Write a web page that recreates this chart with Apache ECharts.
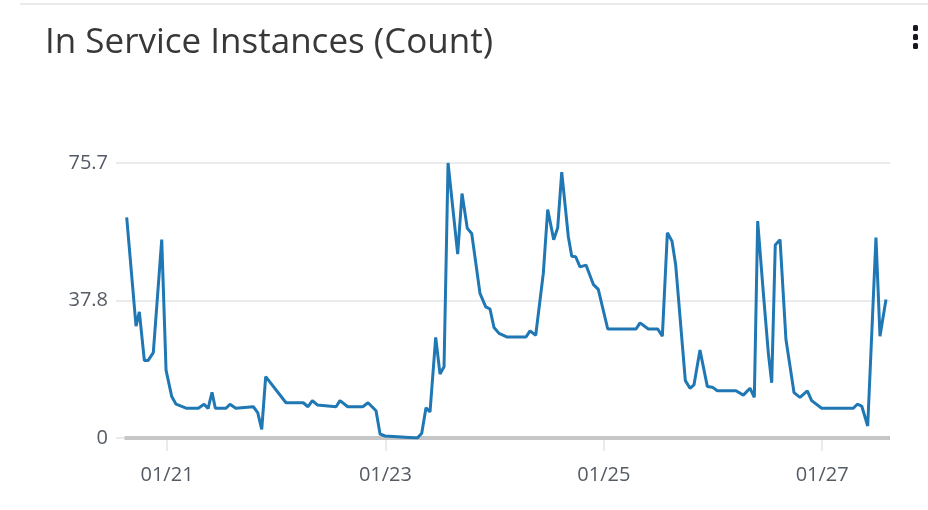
<!DOCTYPE html>
<html>
<head>
<meta charset="utf-8">
<script src="https://cdn.jsdelivr.net/npm/echarts@6/dist/echarts.min.js"></script>
<style>
  html, body { margin: 0; padding: 0; background: #ffffff; }
  #chart { width: 928px; height: 510px; }
</style>
</head>
<body>
<div id="chart"></div>
<script>
// ---- data (times are "MM/DD HH:MM", January) ----
var chartTitle = 'In Service Instances (Count)';
var times = [
  '01/20 15:08','01/20 17:11','01/20 17:55','01/20 19:01','01/20 19:49','01/20 20:59','01/20 22:50','01/20 23:47',
  '01/21 01:02','01/21 01:59','01/21 04:11','01/21 06:53','01/21 08:08','01/21 09:01','01/21 09:53','01/21 10:37',
  '01/21 12:58','01/21 13:51','01/21 15:06','01/21 18:58','01/21 19:56','01/21 20:49','01/21 21:41',
  '01/22 02:09','01/22 05:57','01/22 06:59','01/22 07:56','01/22 09:02','01/22 13:09','01/22 14:01','01/22 15:43',
  '01/22 19:01','01/22 20:11','01/22 21:56','01/22 22:49','01/22 23:55',
  '01/23 07:01','01/23 07:59','01/23 08:55','01/23 09:48','01/23 11:03','01/23 12:00','01/23 12:53','01/23 13:46',
  '01/23 15:53','01/23 16:50','01/23 18:00','01/23 18:58','01/23 20:47','01/23 22:03','01/23 22:59','01/23 23:52',
  '01/24 00:58','01/24 02:47','01/24 06:54','01/24 07:47','01/24 09:02','01/24 10:42','01/24 11:40','01/24 12:59',
  '01/24 13:52','01/24 14:45','01/24 16:12','01/24 16:57','01/24 17:49','01/24 18:46','01/24 20:05','01/24 21:41',
  '01/24 22:47',
  '01/25 00:52','01/25 07:05','01/25 07:58','01/25 09:47','01/25 11:51','01/25 12:52','01/25 13:58','01/25 14:59',
  '01/25 15:48','01/25 17:55','01/25 18:57','01/25 19:49','01/25 21:08','01/25 22:45','01/25 23:51',
  '01/26 00:56','01/26 05:03','01/26 06:40','01/26 08:08','01/26 09:05','01/26 09:49','01/26 11:04','01/26 12:10',
  '01/26 12:54','01/26 13:41','01/26 14:44','01/26 16:02','01/26 17:48','01/26 19:07','01/26 20:44','01/26 21:41',
  '01/26 23:53',
  '01/27 06:50','01/27 07:43','01/27 08:41','01/27 10:00','01/27 11:49','01/27 12:42','01/27 14:01'
];
var counts = [
  60.7, 30.8, 34.7, 21.3, 21.3, 23.5, 54.6, 18.7,
  11.4, 9.3, 8.2, 8.2, 9.3, 8.1, 12.6, 8.2,
  8.2, 9.3, 8.2, 8.6, 7.0, 2.4, 16.9,
  9.7, 9.7, 8.6, 10.3, 9.1, 8.6, 10.3, 8.6,
  8.6, 9.7, 7.5, 1.1, 0.55,
  0, 1.3, 8.3, 7.2, 27.7, 17.6, 19.6, 75.7,
  50.6, 67.3, 57.7, 56.3, 39.8, 36.1, 35.5, 30.4,
  28.8, 27.8, 27.8, 29.5, 28.3, 45.3, 62.9, 54.6,
  57.9, 73.2, 55.4, 50.0, 49.9, 47.1, 47.6, 42.3,
  40.9,
  30.0, 30.0, 31.7, 30.0, 30.0, 28.0, 56.5, 54.2,
  47.6, 15.8, 13.7, 14.6, 24.2, 14.2, 14.0,
  13.0, 13.0, 11.8, 13.7, 11.2, 59.7, 39.8, 23.3,
  15.2, 53.1, 54.6, 27.1, 12.5, 11.2, 13.0, 10.3,
  8.2,
  8.2, 9.3, 8.8, 3.3, 55.2, 28.0, 38.1
];
var xRange = ['01/20 12:47', '01/27 14:54'];
var xTickValues = ['01/21 00:00', '01/23 00:00', '01/25 00:00', '01/27 00:00'];
var xTickLabels = ['01/21', '01/23', '01/25', '01/27'];
var yTicks = [0, 37.85, 75.7];
var yTickLabels = ['0', '37.8', '75.7'];

// ---- helpers ----
function toDay(s) {
  var p = s.split(' ');
  var d = p[0].split('/');
  var t = p[1].split(':');
  return parseInt(d[1], 10) + (parseInt(t[0], 10) + parseInt(t[1], 10) / 60) / 24;
}
var seriesData = times.map(function (t, i) { return [toDay(t), counts[i]]; });
var xMin = toDay(xRange[0]);
var xMax = toDay(xRange[1]);
var xTicks = xTickValues.map(toDay);

var chart = echarts.init(document.getElementById('chart'), null, { renderer: 'canvas' });
var FONT = '"Open Sans", "Noto Sans", sans-serif';

chart.setOption({
  backgroundColor: '#ffffff',
  animation: false,
  title: {
    text: chartTitle,
    left: 40,
    top: 21,
    textStyle: { fontFamily: FONT, fontSize: 35, fontWeight: 'normal', color: '#383838' }
  },
  graphic: [
    { type: 'rect', shape: { x: 20, y: 3, width: 908, height: 2 }, style: { fill: '#e9ebed' }, silent: true },
    { type: 'rect', shape: { x: 913, y: 25, width: 5, height: 6, r: 1.5 }, style: { fill: '#16191f' }, silent: true },
    { type: 'rect', shape: { x: 913, y: 34, width: 5, height: 6, r: 1.5 }, style: { fill: '#16191f' }, silent: true },
    { type: 'rect', shape: { x: 913, y: 43, width: 5, height: 6, r: 1.5 }, style: { fill: '#16191f' }, silent: true }
  ],
  grid: { left: 116, right: 38, top: 163, bottom: 72, containLabel: false },
  xAxis: {
    type: 'value',
    min: xMin,
    max: xMax,
    axisLine: { show: false },
    splitLine: { show: false },
    axisTick: {
      show: true,
      customValues: xTicks,
      length: 13,
      lineStyle: { color: '#e9ebed', width: 2 }
    },
    axisLabel: {
      customValues: xTicks,
      margin: 27,
      fontFamily: FONT,
      fontSize: 20,
      color: '#545b64',
      formatter: function (v) {
        for (var i = 0; i < xTicks.length; i++) {
          if (Math.abs(xTicks[i] - v) < 1e-6) return xTickLabels[i];
        }
        return '';
      }
    }
  },
  yAxis: {
    type: 'value',
    min: 0,
    max: yTicks[yTicks.length - 1],
    interval: yTicks[1],
    axisLine: { show: false },
    axisTick: { show: false },
    splitLine: { show: true, lineStyle: { color: '#e9ebed', width: 2 } },
    axisLabel: {
      margin: 8,
      fontFamily: FONT,
      fontSize: 20,
      color: '#545b64',
      formatter: function (v) {
        for (var i = 0; i < yTicks.length; i++) {
          if (Math.abs(yTicks[i] - v) < 1e-6) return yTickLabels[i];
        }
        return '';
      }
    }
  },
  series: [{
    type: 'line',
    data: seriesData,
    showSymbol: false,
    symbol: 'none',
    lineStyle: { color: '#1f77b4', width: 3 },
    z: 3,
    markLine: {
      silent: true,
      symbol: ['none', 'none'],
      label: { show: false },
      lineStyle: { color: '#c6c6c6', width: 4, type: 'solid' },
      z: 1,
      data: [[{ coord: [seriesData[0][0] - 0.02, 0] }, { coord: [xMax, 0] }]]
    }
  }]
});
</script>
</body>
</html>
